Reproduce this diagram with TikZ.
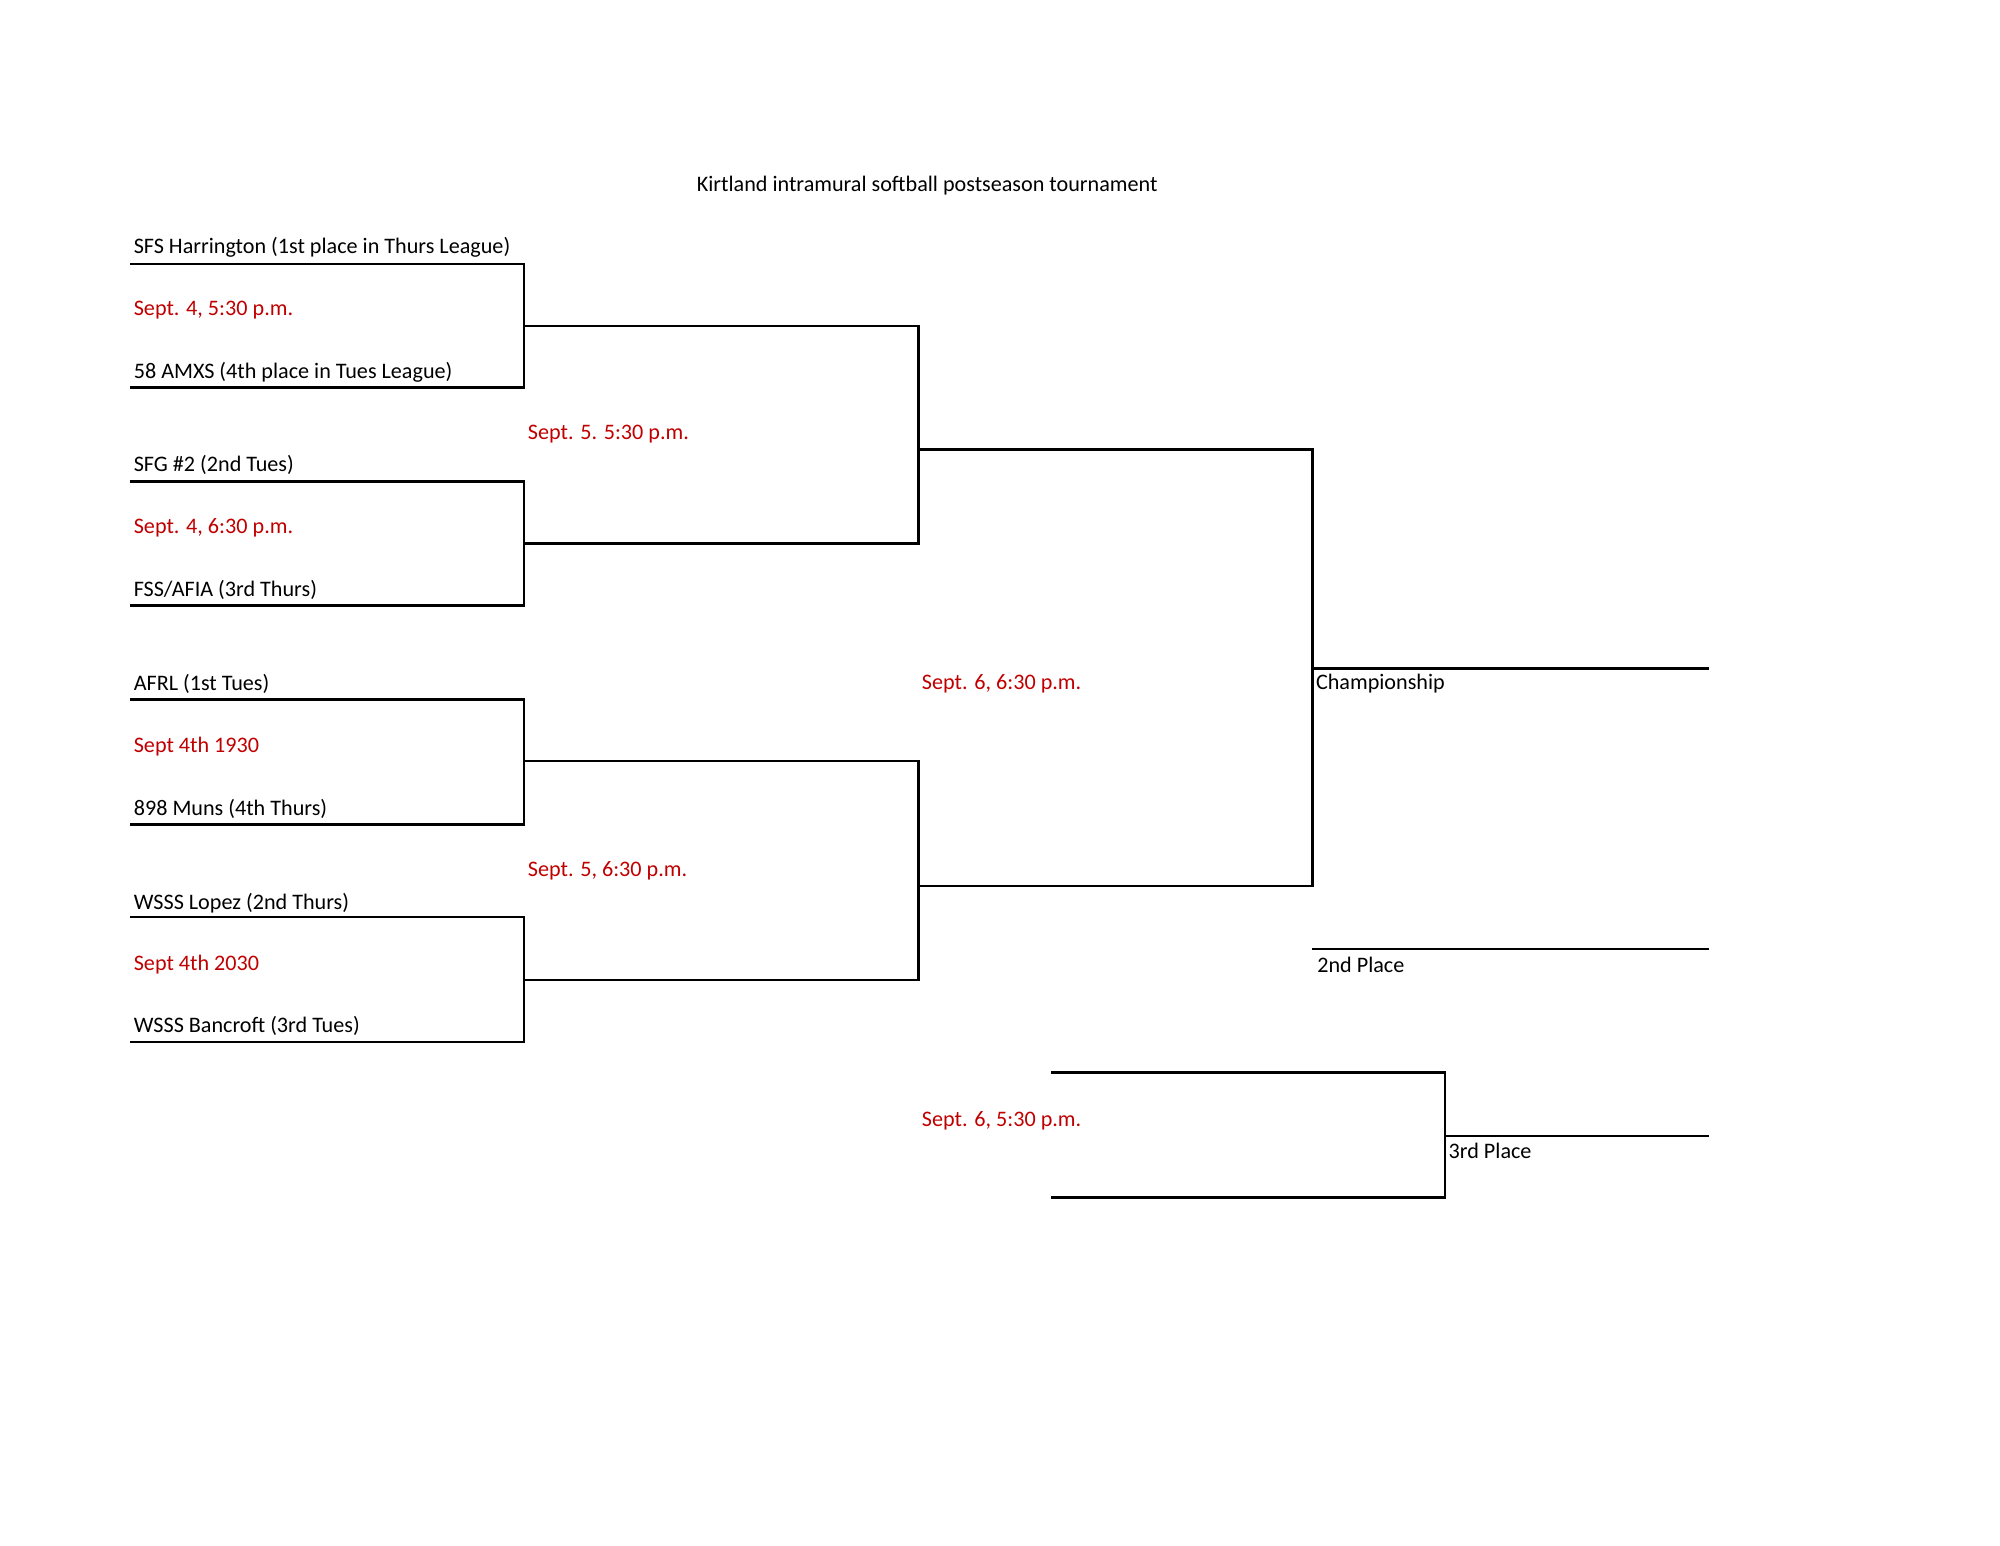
\documentclass[tikz,border=0pt]{standalone}
\usepackage{fontspec}
\setmainfont{Carlito}
\usepackage{tikz}
\definecolor{datered}{RGB}{192,0,0}
\tikzset{
  team/.style={anchor=west,inner sep=0.75pt,font=\fontsize{8.6}{10}\selectfont},
  date/.style={team,text=datered},
  bracket/.style={line width=1pt}
}
\begin{document}
\begin{tikzpicture}[x=0.5pt,y=0.5pt,yscale=-1,xscale=1]
    \useasboundingbox (0,0) rectangle (1553,1200);

    % Title
    \draw (720,144) node [inner sep=0.75pt,font=\fontsize{8.6}{10}\selectfont] (title) {Kirtland intramural softball postseason tournament};

    % First round
    \draw[bracket] (101,205) -- (407,205) -- (407,301) -- (101,301);
    \draw[bracket] (101,374) -- (407,374) -- (407,470) -- (101,470);
    \draw[bracket] (101,543) -- (407,543) -- (407,640) -- (101,640);
    \draw[bracket] (101,712) -- (407,712) -- (407,809) -- (101,809);

    % Second round
    \draw[bracket] (407,253) -- (713,253) -- (713,422) -- (407,422);
    \draw[bracket] (407,591) -- (713,591) -- (713,761) -- (407,761);

    % Final
    \draw[bracket] (713,349) -- (1019,349) -- (1019,688) -- (713,688);
    \draw[bracket] (1019,519) -- (1327,519);
    \draw[bracket] (1019,737) -- (1327,737);

    % Third place game
    \draw[bracket] (816,833) -- (1122,833) -- (1122,930) -- (816,930);
    \draw[bracket] (1122,882) -- (1327,882);

    % Text Nodes
    \draw (102,192) node [team] (t1) {SFS Harrington (1st place in Thurs League)};
    \draw (102,241) node [date] (d1) {Sept. 4, 5:30 p.m.};
    \draw (102,289) node [team] (t2) {58 AMXS (4th place in Tues League)};
    \draw (102,361) node [team] (t3) {SFG \#2 (2nd Tues)};
    \draw (102,410) node [date] (d2) {Sept. 4, 6:30 p.m.};
    \draw (102,458) node [team] (t4) {FSS/AFIA (3rd Thurs)};
    \draw (102,531) node [team] (t5) {AFRL (1st Tues)};
    \draw (102,580) node [date] (d3) {Sept 4th 1930};
    \draw (102,628) node [team] (t6) {898 Muns (4th Thurs)};
    \draw (102,701) node [team] (t7) {WSSS Lopez (2nd Thurs)};
    \draw (102,749) node [date] (d4) {Sept 4th 2030};
    \draw (102,797) node [team] (t8) {WSSS Bancroft (3rd Tues)};

    \draw (408,337) node [date] (d5) {Sept. 5. 5:30 p.m.};
    \draw (408,676) node [date] (d6) {Sept. 5, 6:30 p.m.};
    \draw (714,531) node [date] (d7) {Sept. 6, 6:30 p.m.};
    \draw (714,870) node [date] (d8) {Sept. 6, 5:30 p.m.};

    \draw (1020,531) node [team] (champ) {Championship};
    \draw (1021,749) node [team] (second) {2nd Place};
    \draw (1123,894) node [team] (third) {3rd Place};
\end{tikzpicture}
\end{document}
